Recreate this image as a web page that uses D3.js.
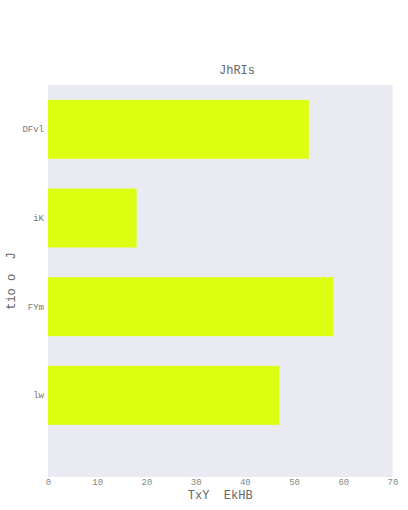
<!DOCTYPE html>
<html><head><meta charset="utf-8">
<script src="https://cdn.jsdelivr.net/npm/d3@7"></script>
<style>body{margin:0;background:#fff}svg{display:block}</style>
</head><body>
<script>
const categories = ["DFvl", "iK", "FYm", "lw"];
const values = [53, 18, 58, 47];
const xTicks = [0, 10, 20, 30, 40, 50, 60, 70];
const title = "JhRIs";
const xTitle = "TxY  EkHB";
const yTitle = "tio o  J";

const W = 408, H = 510;
const L = 48, R = 392.5, T = 85, B = 477;
const svg = d3.select("body").append("svg").attr("width", W).attr("height", H);
const font = "'Liberation Mono', 'Courier New', monospace";

svg.append("rect").attr("x", L).attr("y", T).attr("width", R - L).attr("height", B - T).attr("fill", "#eaeaf2");

const x = d3.scaleLinear().domain([0, 70]).range([L, R]);
const step = 88.67;
const y = d3.scaleBand().domain(categories).range([T, T + 4 * step]).paddingInner(0.335).paddingOuter(0.1675);

svg.append("g").selectAll("rect").data(categories).join("rect")
  .attr("x", x(0)).attr("y", d => y(d))
  .attr("width", (d, i) => x(values[i]) - x(0))
  .attr("height", y.bandwidth())
  .attr("fill", "#ddff11");

const xAxis = svg.append("g").attr("transform", `translate(0,${B})`)
  .call(d3.axisBottom(x).tickValues(xTicks).tickSize(0).tickPadding(2));
xAxis.select(".domain").remove();
xAxis.selectAll("text").attr("font-family", font).attr("font-size", 9).attr("fill", "#888");

const yAxis = svg.append("g").attr("transform", `translate(${L},0)`)
  .call(d3.axisLeft(y).tickSize(0).tickPadding(4));
yAxis.select(".domain").remove();
yAxis.selectAll("text").attr("font-family", font).attr("font-size", 9).attr("fill", "#777");

svg.append("text").attr("x", 237).attr("y", 74).attr("text-anchor", "middle")
  .attr("font-family", font).attr("font-size", 12).attr("fill", "#666").text(title);
svg.append("text").attr("x", (L + R) / 2).attr("y", 499).attr("text-anchor", "middle")
  .attr("font-family", font).attr("font-size", 12).attr("fill", "#666")
  .style("white-space", "pre").text(xTitle);
svg.append("text").attr("transform", `translate(15,${(T + B) / 2}) rotate(-90)`).attr("text-anchor", "middle")
  .attr("font-family", font).attr("font-size", 12).attr("fill", "#666")
  .style("white-space", "pre").text(yTitle);
</script>
</body></html>
